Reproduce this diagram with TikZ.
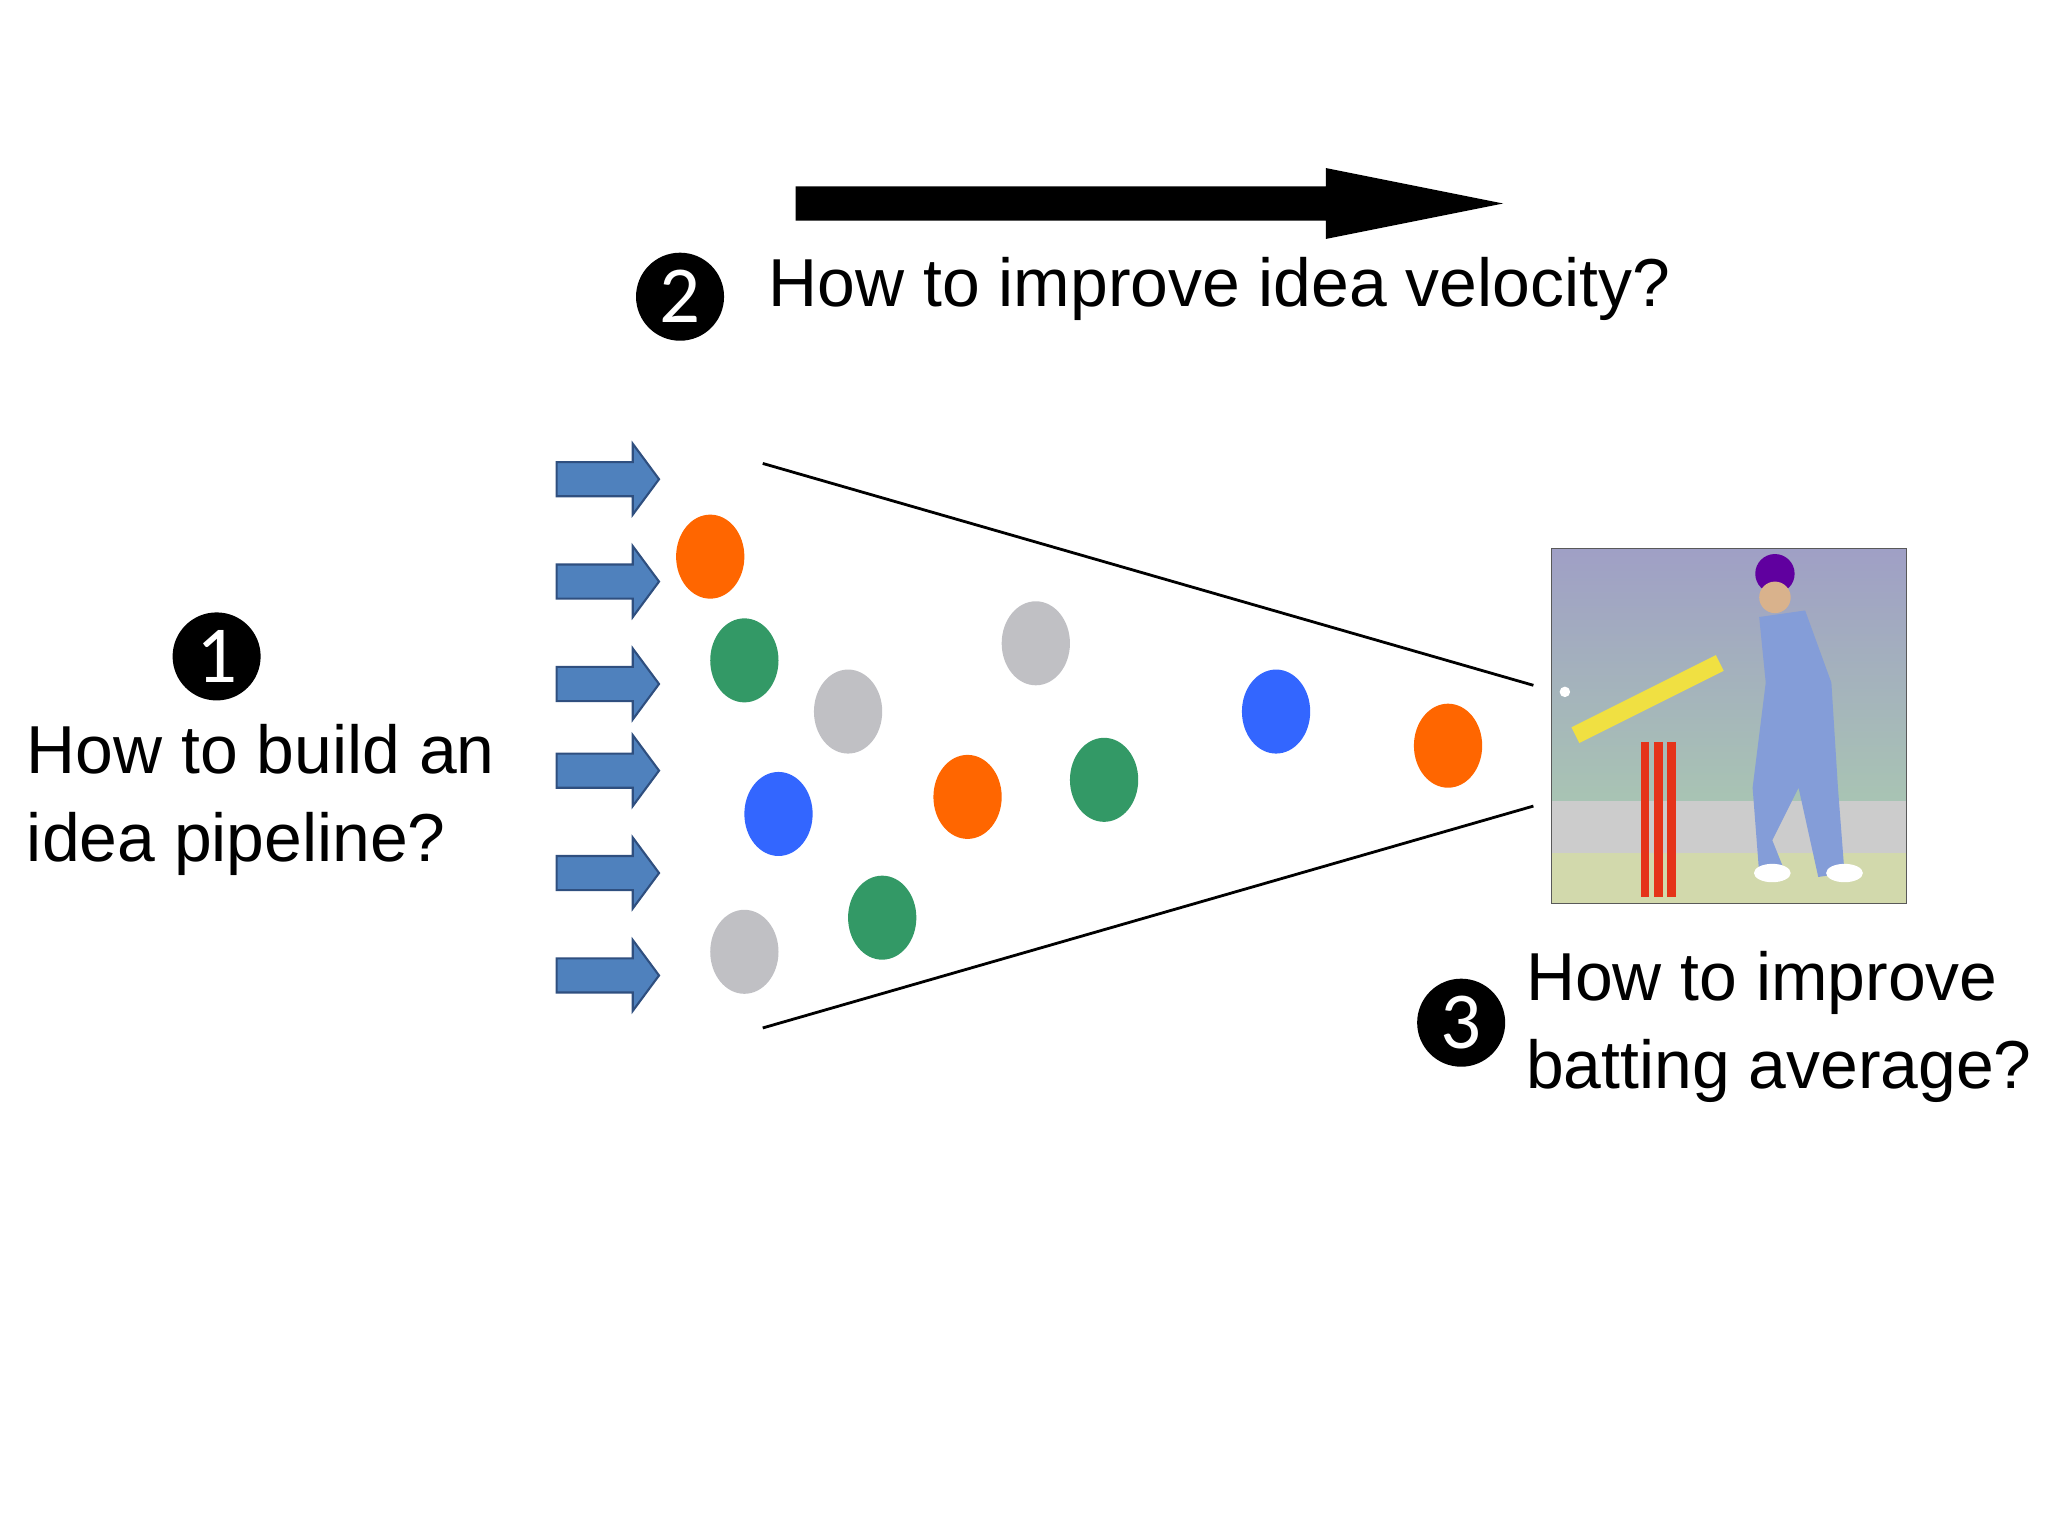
\documentclass[tikz,border=0pt]{standalone}
\usepackage{fontspec}
\setmainfont{Liberation Sans}
\newfontfamily\numfont{Carlito}
\definecolor{arrblue}{HTML}{4F81BD}
\definecolor{arredge}{HTML}{2F4F7F}
\definecolor{dorange}{HTML}{FF6600}
\definecolor{dgreen}{HTML}{339966}
\definecolor{dgray}{HTML}{C0C0C4}
\definecolor{dblue}{HTML}{3366FF}
\begin{document}
\begin{tikzpicture}[x=0.013128cm,y=-0.013128cm,
  num/.style={circle,fill=black,text=white,minimum size=0.88cm,inner sep=0pt,font=\numfont\fontsize{23}{23}\selectfont},
  lbl/.style={anchor=west,align=left,font=\fontsize{19.3}{25}\selectfont,inner sep=0pt},
  inarr/.style={fill=arrblue,draw=arredge,line width=0.6pt}]
\useasboundingbox (0,0) rectangle (1560,1170);
% big arrow
\fill (606,142) -- (1010,142) -- (1010,128) -- (1145,155) -- (1010,182) -- (1010,168) -- (606,168) -- cycle;
\node[num] (n2) at (518,226) {2};
\node[lbl] (t2) at (585,220) {How to improve idea velocity?};
% input arrows
\foreach \y in {365,443,521,587,665,743}
  \draw[inarr] (424,\y-13) -- (482,\y-13) -- (482,\y-27) -- (502,\y) -- (482,\y+27) -- (482,\y+13) -- (424,\y+13) -- cycle;
% funnel
\draw[line width=0.8pt] (581,353) -- (1168,522);
\draw[line width=0.8pt] (581,783) -- (1168,614);
% dots
\foreach \x/\y/\c in {541/424/dorange,567/503/dgreen,646/542/dgray,789/490/dgray,593/620/dblue,737/607/dorange,841/594/dgreen,972/542/dblue,1103/568/dorange,567/725/dgray,672/699/dgreen}
  \fill[\c] (\x,\y) ellipse [x radius=26, y radius=32];
% photo
\shade[top color=blue!25!gray!60, bottom color=green!30!gray!50] (1182,418) rectangle (1452,688);
\fill[gray!40] (1182,610) rectangle (1452,650);
\fill[green!25!brown!40] (1182,650) rectangle (1452,688);
\foreach \x in {1253,1263,1273} \draw[red!60!brown,line width=2.5pt] (\x,565) -- (\x,683);
\fill[cyan!40!blue!50] (1340,470) -- (1375,465) -- (1395,520) -- (1400,600) -- (1405,665) -- (1385,668) -- (1370,600) -- (1350,640) -- (1360,665) -- (1340,665) -- (1335,600) -- (1345,520) -- cycle;
\fill[blue!50!purple] (1352,437) circle (15);
\fill[brown!60] (1352,455) circle (12);
\draw[brown!30!yellow!80,line width=5pt] (1200,560) -- (1310,505);
\fill[white] (1405,665) ellipse (14 and 7) (1350,665) ellipse (14 and 7);
\fill[white] (1192,527) circle (4);
\draw[gray!70!black] (1182,418) rectangle (1452,688);
% left label
\node[num] (n1) at (165,500) {1};
\node[lbl] (t1) at (20,609) {How to build an\\idea pipeline?};
% right label
\node[num] (n3) at (1113,779) {3};
\node[lbl] (t3) at (1162,782) {How to improve\\batting average?};
\end{tikzpicture}
\end{document}
